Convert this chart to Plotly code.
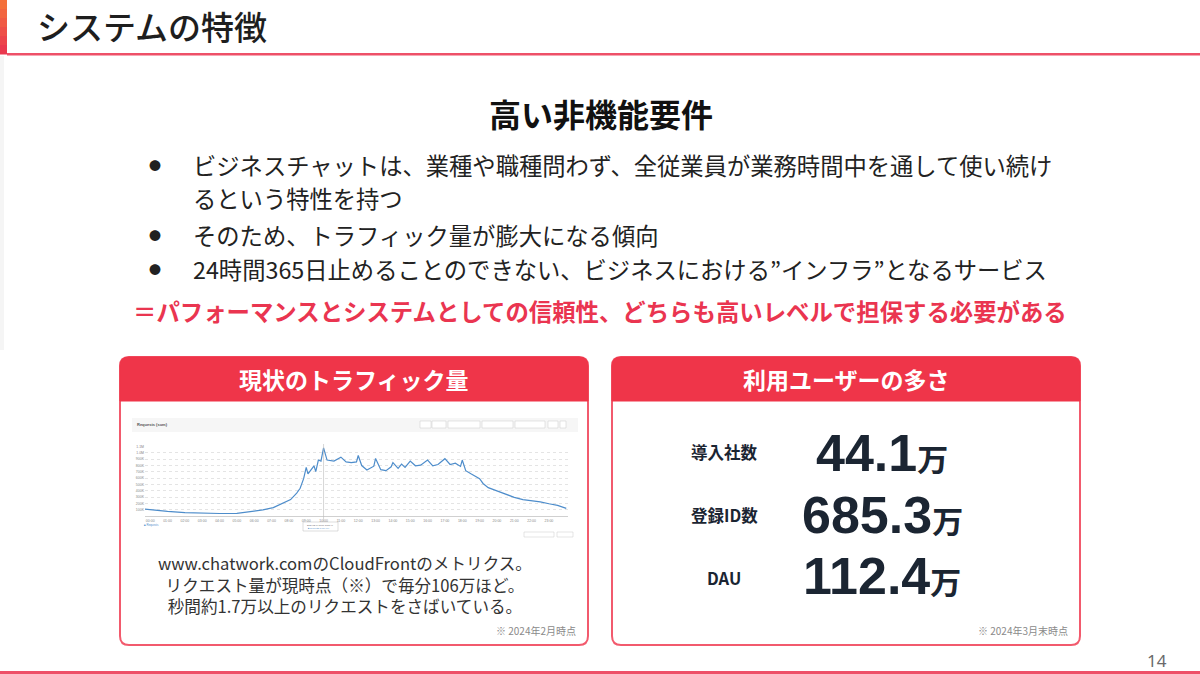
import plotly.graph_objects as go

W, H = 1200, 674

# CloudFront requests per minute (thousands)
hours = [-0.3, 0, 1, 2, 3, 4, 5, 5.8, 6.5, 7.1, 7.7, 8.1, 8.45, 8.65, 8.85, 9.0, 9.1, 9.3,
         9.45, 9.55, 9.7, 9.85, 10.0, 10.2, 10.6, 11.0, 11.3, 11.6, 11.9, 12.0, 12.2, 12.5,
         12.9, 13.0, 13.3, 13.6, 13.9, 14.0, 14.3, 14.5, 14.7, 15.0, 15.3, 15.6, 16.0, 16.3,
         16.6, 17.0, 17.3, 17.6, 17.9, 18.0, 18.2, 18.5, 18.8, 19.0, 19.2, 19.5, 20.0, 20.5,
         21.0, 21.5, 22.0, 22.5, 23.0, 23.5, 24.0]
requests_k = [110, 100, 72, 52, 42, 40, 41, 70, 98, 133, 210, 260, 363, 439, 592, 771, 669, 745,
              796, 704, 887, 870, 1080, 887, 872, 933, 857, 847, 857, 959, 800, 730,
              790, 913, 734, 719, 780, 847, 756, 822, 771, 872, 796, 806, 887, 796,
              817, 909, 817, 837, 786, 887, 719, 669, 618, 592, 516, 450, 398, 347,
              296, 260, 245, 225, 194, 168, 122]
x_ticks = list(range(24))
x_ticktext = [f"{h:02d}:00" for h in x_ticks]
y_ticks = [100, 200, 300, 400, 500, 600, 700, 800, 900, 1000, 1100]
y_ticktext = ["100K", "200K", "300K", "400K", "500K", "600K", "700K", "800K", "900K", "1.0M", "1.1M"]

bullets = [
    "ビジネスチャットは、業種や職種問わず、全従業員が業務時間中を通して使い続け",
    "るという特性を持つ",
    "そのため、トラフィック量が膨大になる傾向",
    "24時間365日止めることのできない、ビジネスにおける”インフラ”となるサービス",
]
caption = ["www.chatwork.comのCloudFrontのメトリクス。",
           "リクエスト量が現時点（※）で毎分106万ほど。",
           "秒間約1.7万以上のリクエストをさばいている。"]
stat_labels = ["導入社数", "登録ID数", "DAU"]
stat_values = ["44.1", "685.3", "112.4"]

RED = "#EF3549"
BORDER = "#F25A6D"
JP = "Noto Sans CJK JP"


def fx(x):
    return x / W


def fy(y):
    return 1 - y / H


def rpath(x0, y0, x1, y1, r, bottom_round=True):
    rb = r if bottom_round else 0
    pts = [
        ("M", [(x0 + r, y0)]), ("L", [(x1 - r, y0)]), ("Q", [(x1, y0), (x1, y0 + r)]),
        ("L", [(x1, y1 - rb)]), ("Q", [(x1, y1), (x1 - rb, y1)]),
        ("L", [(x0 + rb, y1)]), ("Q", [(x0, y1), (x0, y1 - rb)]),
        ("L", [(x0, y0 + r)]), ("Q", [(x0, y0), (x0 + r, y0)]),
    ]
    s = ""
    for cmd, ps in pts:
        s += cmd + " " + " ".join(f"{fx(a):.5f},{fy(b):.5f}" for a, b in ps) + " "
    return s + "Z"


fig = go.Figure()
fig.add_trace(go.Scatter(x=hours, y=requests_k, mode="lines",
                         line=dict(color="#4E8DCB", width=1.2), hoverinfo="skip"))

shapes = []
ann = []


def rect(x0, y0, x1, y1, fill, line=None, lw=0):
    shapes.append(dict(type="rect", xref="paper", yref="paper", x0=fx(x0), x1=fx(x1),
                       y0=fy(y1), y1=fy(y0), fillcolor=fill, layer="below",
                       line=dict(color=line or fill, width=lw)))


def text(x, y, s, size, color="#222", weight=400, xanchor="center", family=JP):
    ann.append(dict(x=fx(x), y=fy(y), xref="paper", yref="paper", text=s, showarrow=False,
                    xanchor=xanchor, yanchor="middle",
                    font=dict(family=family, size=size, color=color, weight=weight)))


# header band with gradient tab
grad = ["#F4703A", "#F26540", "#F05A44", "#EE4F48", "#EC444B", "#EA394E"]
for i, c in enumerate(grad):
    rect(0, i * 9, 7, (i + 1) * 9 + 0.5, c)
rect(0, 56, 4, 350, "#F5F5F5")
rect(7, 53, W, 55.5, "#EE5068")
rect(0, 671, W, 674, "#EE5068")
text(35, 26, "システムの特徴", 33, "#1E1E1E", 500, "left")
text(1157, 660, "14", 17, "#6A6A6A", 400, "center", "Noto Sans")

# body text
text(601, 113, "高い非機能要件", 32, "#111", 700)
for y in (166, 235, 269):
    text(155, y, "●", 12, "#222")
for s, y in zip(bullets, (165, 198, 235, 269)):
    text(191, y, s, 23.3, "#222", 400, "left")
text(600, 311, "＝パフォーマンスとシステムとしての信頼性、どちらも高いレベルで担保する必要がある",
     23.4, "#EA3550", 700)

# panels
for (x0, x1, title, note) in [(120, 588, "現状のトラフィック量", "※ 2024年2月時点"),
                              (612, 1080, "利用ユーザーの多さ", "※ 2024年3月末時点")]:
    shapes.append(dict(type="path", xref="paper", yref="paper", path=rpath(x0, 357, x1, 645, 9),
                       fillcolor="white", line=dict(color=BORDER, width=2), layer="below"))
    shapes.append(dict(type="path", xref="paper", yref="paper",
                       path=rpath(x0, 357, x1, 401, 9, bottom_round=False),
                       fillcolor=RED, line=dict(color=RED, width=1), layer="below"))
    text((x0 + x1) / 2, 379, title, 23, "white", 700)
    text(x1 - 10, 630, note, 10, "#8A8A8A", 400, "right")

# screenshot chrome around the traffic chart
rect(132, 418, 578, 432, "#F6F6F6")
text(135, 425, "Requests (sum)", 4, "#555", 700, "left", "Liberation Sans")
for bx0, bx1 in [(420, 431), (432, 446), (448, 480), (482, 513), (515, 545), (548, 558), (560, 566)]:
    rect(bx0, 421, bx1, 428, "white", "#C8C8C8", 0.5)
rect(524, 532, 554, 537, "white", "#C8C8C8", 0.5)
rect(557, 532, 573, 537, "white", "#C8C8C8", 0.5)
rect(303, 522, 338, 531, "white", "#BBBBBB", 0.5)
text(305, 524.6, "2024-02-xx 10:00 (UTC+9)", 2.2, "#555", 400, "left", "Liberation Sans")
text(306, 528.6, "■ Requests 1,07x,xxx", 2.2, "#4E8DCB", 400, "left", "Liberation Sans")
text(142, 525, "■ Requests", 2.8, "#4E8DCB", 400, "left", "Liberation Sans")
shapes.append(dict(type="line", xref="x", yref="paper", x0=10, x1=10, y0=fy(522), y1=fy(444),
                   line=dict(color="#BBBBBB", width=0.6)))

text(345, 584, "<br>".join(caption), 16.6, "#333", 400)

# user stats
for i, (lab, val) in enumerate(zip(stat_labels, stat_values)):
    text(724, 452 + i * 63, lab, 16.5, "#1B2532", 700)
    text(882, 453 + i * 61.5, val + "<span style='font-size:31px'>万</span>", 52, "#1B2532", 700,
         "center", "Liberation Sans, Noto Sans CJK JP")

fig.update_layout(
    width=W, height=H, margin=dict(l=0, r=0, t=0, b=0),
    paper_bgcolor="white", plot_bgcolor="rgba(0,0,0,0)", showlegend=False,
    shapes=shapes, annotations=ann,
    xaxis=dict(domain=[fx(145), fx(568)], range=[-0.3, 24.1], tickvals=x_ticks,
               ticktext=x_ticktext, tickfont=dict(size=3.5, color="#888", family="Liberation Sans"),
               showgrid=False, zeroline=False, showline=True, linecolor="#D0D0D0",
               linewidth=0.6, ticks="", ticklabelstandoff=1, fixedrange=True),
    yaxis=dict(domain=[fy(516), fy(446)], range=[0, 1110], tickvals=y_ticks,
               ticktext=y_ticktext, tickfont=dict(size=3.5, color="#888", family="Liberation Sans"),
               showgrid=True, gridcolor="#E4E4E4", gridwidth=0.5, griddash="dot",
               zeroline=False, ticks="", fixedrange=True),
)

fig.write_html("out.html", config={"displayModeBar": False},
               post_script="document.body.style.margin='0';document.body.style.overflow='hidden';")
